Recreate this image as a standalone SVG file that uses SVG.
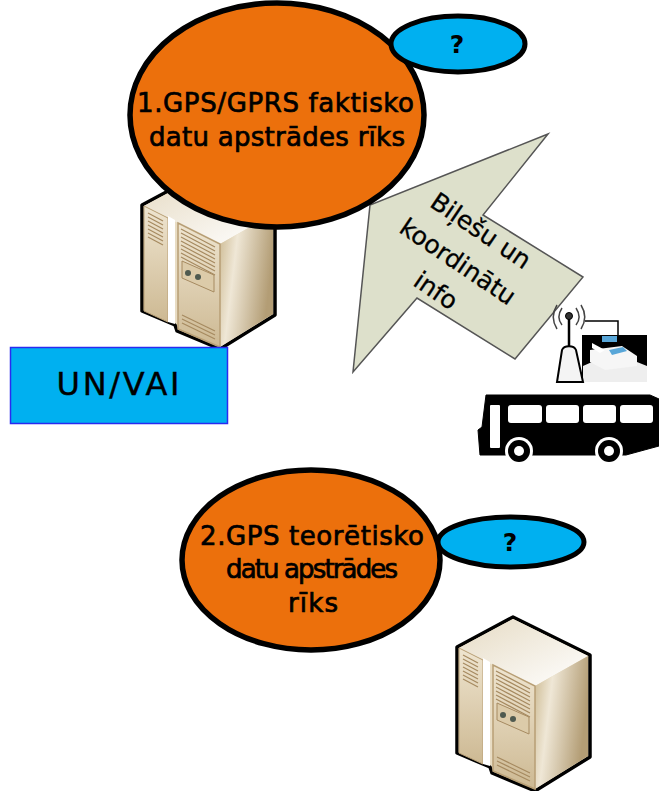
<svg xmlns="http://www.w3.org/2000/svg" width="659" height="791" viewBox="0 0 659 791">
<style>
.big{fill:#ec700c;stroke:#000;stroke-width:5.5}
.small{fill:#00b0f0;stroke:#000;stroke-width:5}
text{font-family:"DejaVu Sans","Noto Sans",sans-serif;fill:#000;text-anchor:middle}
.t{font-size:26px;stroke:#000;stroke-width:.7}
.q{font-size:25px;font-weight:700}
.a{font-size:25px;dominant-baseline:middle;stroke:#000;stroke-width:.3}
.vent{stroke:#a68a60;stroke-width:1.2;fill:none}
</style>
<defs>
<filter id="soft" x="-5%" y="-5%" width="110%" height="110%"><feGaussianBlur stdDeviation="0.6"/></filter>
<linearGradient id="front" x1="0" y1="0" x2="0" y2="1"><stop offset="0" stop-color="#efe5d0"/><stop offset="1" stop-color="#cdb993"/></linearGradient>
<linearGradient id="side" x1="0" y1="0" x2="1" y2="0.3"><stop offset="0" stop-color="#cbb88f"/><stop offset=".35" stop-color="#efe7d6"/><stop offset="1" stop-color="#b39d75"/></linearGradient>
<linearGradient id="top" x1="0" y1="0" x2="1" y2="1"><stop offset="0" stop-color="#e6dbc4"/><stop offset="1" stop-color="#fff"/></linearGradient>
<g id="server" filter="url(#soft)">
<path d="M513 617L457 647V753L490 767L492 773L535 791L590 757V655Z" fill="#e8dcc3" stroke="#000" stroke-width="3.5" stroke-linejoin="round"/>
<path d="M513 619L459 648L535 686L588 656Z" fill="url(#top)"/>
<path d="M535 686L588 656V756L535 789Z" fill="url(#side)"/>
<path d="M459 648L483 660V764L459 753Z" fill="url(#front)" stroke="#b89f75" stroke-width="1"/>
<path d="M483 658L490 662V766L483 764Z" fill="#fff"/>
<path d="M493 665L535 686V789L493 771Z" fill="url(#front)" stroke="#b89f75" stroke-width="1.5"/>
<path class="vent" d="M463 655L478 663M463 659L478 667M463 663L478 671M463 667L478 675M463 671L478 679M463 675L478 683M463 679L478 687"/>
<path class="vent" d="M496 671L530 689M496 675L530 693M496 679L530 697M496 683L530 701M496 687L530 705M496 691L530 709M496 695L530 713M496 699L530 717"/>
<path d="M497 703L529 717V734L497 720Z" fill="#dccba9" stroke="#a68a60"/>
<circle cx="503" cy="715" r="3" fill="#4f5a50"/><circle cx="513" cy="719" r="3" fill="#4f5a50"/>
<path class="vent" d="M497 757L530 773M497 761L530 777M497 765L530 781"/>
</g>
</defs>
<g id="connectors"></g>
<g id="server-1"><use href="#server" x="-315" y="-442"/></g>
<g id="arrow">
<polygon points="548,134 370,205 353,372 417,298 515,359 583,277 483,215" fill="#dde0cb" stroke="#555" stroke-width="1.5"/>
<text class="a" transform="translate(480,232) rotate(34)">Biļešu un</text>
<text class="a" transform="translate(457,263) rotate(34)">koordinātu</text>
<text class="a" transform="translate(435,292) rotate(34)">info</text>
</g>
<g id="node-1">
<ellipse class="big" cx="277" cy="115" rx="147" ry="112"/>
<text class="t" x="275.500" y="112" textLength="277">1.GPS/GPRS faktisko</text>
<text class="t" x="277" y="146" textLength="256">datu apstrādes rīks</text>
</g>
<g id="question-1">
<ellipse class="small" cx="458" cy="44" rx="67" ry="28"/>
<text class="q" x="457" y="53">?</text>
</g>
<g id="un-vai">
<rect x="10.500" y="347.500" width="217" height="76" fill="#00b0f0" stroke="#2a2af0" stroke-width="1.500"/>
<text x="118" y="395" font-size="32" stroke="#000" stroke-width=".4" textLength="123">UN/VAI</text>
</g>
<g id="terminal" filter="url(#soft)">
<rect x="582" y="335" width="65" height="47" fill="#000"/>
<path d="M585 321H618V335" fill="none" stroke="#000" stroke-width="1.500"/>
<path d="M583 382V366L592 362H637L647 366V382Z" fill="#eee"/>
<path d="M590 350L622 346L637 356V366L605 370L590 362Z" fill="#f6f6f6"/>
<path d="M602 336H617V342H602Z" fill="#58a6d8"/>
<path d="M592 343L605 350L600 353L592 348Z" fill="#fff"/>
<path d="M609 350L623 347L627 351L612 355Z" fill="#58a6d8"/>
<path d="M557 382L562 350C564 345 574 345 576 350L583 382Z" fill="#f4f4f4" stroke="#000" stroke-width="2"/>
<path d="M569 316V346" stroke="#000" stroke-width="2.500"/>
<circle cx="569" cy="316" r="3.500" fill="#333" stroke="#000"/>
<path d="M562 308C558 314 558 320 562 325M576 308C580 314 580 320 576 325M557 305C552 313 552 321 557 329M581 305C586 313 586 321 581 329" fill="none" stroke="#444" stroke-width="1.500"/>
</g>
<g id="bus" filter="url(#soft)">
<path d="M486 395H650L659 399V446L626 455H480L478 430L482 427Z" fill="#000" stroke="#000"/>
<rect x="490" y="405" width="10" height="43" rx="1" fill="#fff"/>
<rect x="508" y="405" width="34" height="18" rx="3" fill="#fff"/>
<rect x="546" y="405" width="33" height="18" rx="3" fill="#fff"/>
<rect x="583" y="405" width="33" height="18" rx="3" fill="#fff"/>
<rect x="620" y="405" width="33" height="18" rx="3" fill="#fff"/>
<circle cx="519" cy="451" r="14" fill="#fff"/><circle cx="519" cy="451" r="11" fill="#000"/><circle cx="519" cy="451" r="5" fill="#fff"/>
<circle cx="609" cy="451" r="14" fill="#fff"/><circle cx="609" cy="451" r="11" fill="#000"/><circle cx="609" cy="451" r="5" fill="#fff"/>
</g>
<g id="server-2"><use href="#server"/></g>
<g id="node-2">
<ellipse class="big" cx="311" cy="560" rx="129" ry="90"/>
<text class="t" x="312" y="545" textLength="224">2.GPS teorētisko</text>
<text class="t" x="312" y="578" textLength="172">datu apstrādes</text>
<text class="t" x="313" y="612" textLength="50">rīks</text>
</g>
<g id="question-2">
<ellipse class="small" cx="511" cy="542" rx="73" ry="25"/>
<text class="q" x="510" y="551">?</text>
</g>
</svg>
